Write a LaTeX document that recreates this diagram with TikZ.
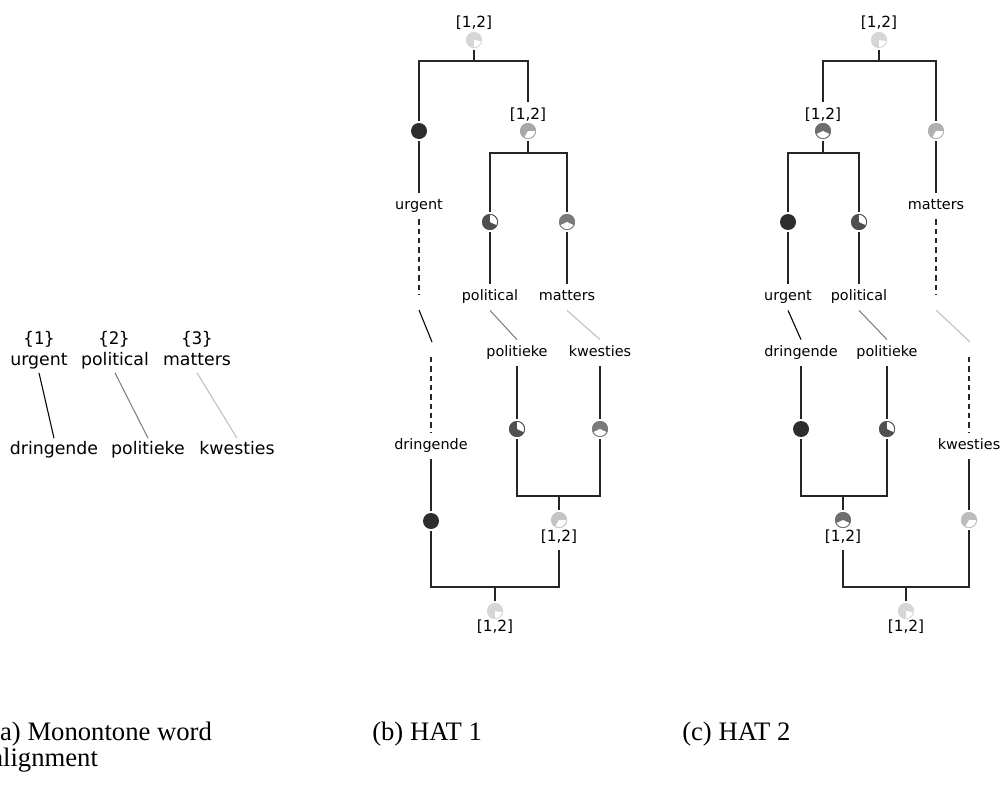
\documentclass[tikz,border=0pt]{standalone}
\usepackage{fontspec}
\setmainfont{Liberation Serif}
\newfontfamily\dv{DejaVu Sans}
\newfontfamily\dvm{DejaVu Sans Mono}
\definecolor{cdark}{HTML}{2D2D2D}
\definecolor{cpol}{HTML}{505050}
\definecolor{cmat}{HTML}{7A7A7A}
\definecolor{cmid}{HTML}{A8A8A8}
\definecolor{clow}{HTML}{C4C4C4}
\definecolor{clight}{HTML}{D6D6D6}
\definecolor{cup}{HTML}{6E6E6E}
\definecolor{cmatc}{HTML}{B0B0B0}
\definecolor{ckw}{HTML}{BCBCBC}
\newcommand\pienode[6]{%
  \node[pie, fill=#4] (#1) at (#2,#3) {};
  \fill[white] (#1.center) -- ++(#5:5.6pt) arc[start angle=#5, end angle=#6, radius=5.6pt] -- cycle;
  \draw[#4, line width=0.6pt] (#1.center) circle[radius=5.7pt];}
\begin{document}
\begin{tikzpicture}[x=0.75pt,y=-0.75pt,
  tree/.style={draw=black!85, line width=0.8pt},
  dsh/.style={tree, dash pattern=on 4pt off 3pt},
  alU/.style={draw=black, line width=0.8pt},
  alP/.style={draw=black!50, line width=0.8pt},
  alM/.style={draw=black!25, line width=0.8pt},
  wa/.style={font=\dv\fontsize{13}{15}\selectfont, inner xsep=1pt, inner ysep=2.5pt, text height=9.8pt, text depth=2.6pt},
  mono/.style={font=\dvm\fontsize{13}{15}\selectfont, inner sep=1pt},
  wb/.style={font=\dv\fontsize{10.8}{12}\selectfont, inner xsep=1pt, inner ysep=4.7pt, text height=8.1pt, text depth=2.2pt},
  lbl/.style={font=\dv\fontsize{11.5}{13}\selectfont, inner xsep=1pt, inner ysep=3.8pt, text height=8.6pt, text depth=2.3pt},
  pie/.style={circle, inner sep=0pt, minimum size=12pt, outer sep=1.3pt},
  captxt/.style={font=\fontsize{20}{24}\selectfont, inner sep=0pt, anchor=base west}]
\useasboundingbox (0,0) rectangle (1002,793);

% ---------------- panel (a)
\node[mono] (a1) at (39,339) {\{1\}};
\node[mono] (a2) at (114,339) {\{2\}};
\node[mono] (a3) at (197,339) {\{3\}};
\node[wa] (aU) at (39,361) {urgent};
\node[wa] (aP) at (115,361) {political};
\node[wa] (aM) at (197,361) {matters};
\node[wa] (aD) at (54,450) {dringende};
\node[wa] (aPk) at (148,450) {politieke};
\node[wa] (aK) at (237,450) {kwesties};
\draw[alU] (aU.south) -- (aD.north);
\draw[alP] (aP.south) -- (aPk.north);
\draw[alM] (aM.south) -- (aK.north);

% ---------------- panel (b)
\coordinate (b61) at (0,61);
\coordinate (b153) at (0,153);
\coordinate (b496) at (0,496);
\coordinate (b587) at (0,587);
\node[lbl] (bTopL) at (474,23) {[1,2]};
\pienode{bTop}{474}{40}{clight}{-90}{-10}
\node[pie, fill=cdark] (bU) at (419,131) {};
\node[lbl] (bPML) at (528,115) {[1,2]};
\pienode{bPM}{528}{131}{cmid}{-120}{0}
\pienode{bP}{490}{222}{cpol}{-25}{90}
\pienode{bM}{567}{222}{cmat}{-155}{-25}
\node[wb] (bUw) at (419,206) {urgent};
\node[wb] (bPw) at (490,297) {political};
\node[wb] (bMw) at (567,297) {matters};
\node[wb] (bPk) at (517,353) {politieke};
\node[wb] (bKw) at (600,353) {kwesties};
\node[wb] (bDr) at (431,446) {dringende};
\pienode{bPk2}{517}{429}{cpol}{-25}{90}
\pienode{bKw2}{600}{429}{cmat}{-155}{-25}
\pienode{bPK}{559}{520}{clow}{-120}{0}
\node[lbl] (bPKL) at (559,537) {[1,2]};
\node[pie, fill=cdark] (bD) at (431,521) {};
\pienode{bBot}{495}{611}{clight}{-90}{-10}
\node[lbl] (bBotL) at (495,627) {[1,2]};
\coordinate (bUe1) at (419,295);
\coordinate (bUe2) at (419,310);
\coordinate (bUe3) at (432,342);
\coordinate (bUe4) at (431,357);

\draw[tree] (bTop.south) -- (bTop.south |- b61);
\draw[tree] (bU.north) -- (bU.north |- b61) -- (bPML.north |- b61) -- (bPML.north);
\draw[tree] (bPM.south) -- (bPM.south |- b153);
\draw[tree] (bP.north) -- (bP.north |- b153) -- (bM.north |- b153) -- (bM.north);
\draw[tree] (bU.south) -- (bUw.north);
\draw[tree] (bP.south) -- (bPw.north);
\draw[tree] (bM.south) -- (bMw.north);
\draw[dsh] (bUw.south) -- (bUe1);
\draw[alU] (bUe2) -- (bUe3);
\draw[dsh] (bUe4) -- (bDr.north);
\draw[alP] (bPw.south) -- (bPk.north);
\draw[alM] (bMw.south) -- (bKw.north);
\draw[tree] (bPk.south) -- (bPk2.north);
\draw[tree] (bKw.south) -- (bKw2.north);
\draw[tree] (bPk2.south) -- (bPk2.south |- b496) -- (bKw2.south |- b496) -- (bKw2.south);
\draw[tree] (bPK.north) -- (bPK.north |- b496);
\draw[tree] (bDr.south) -- (bD.north);
\draw[tree] (bD.south) -- (bD.south |- b587) -- (bPKL.south |- b587) -- (bPKL.south);
\draw[tree] (bBot.north) -- (bBot.north |- b587);

% ---------------- panel (c)
\node[lbl] (cTopL) at (879,23) {[1,2]};
\pienode{cTop}{879}{40}{clight}{-90}{-10}
\node[lbl] (cUPL) at (823,115) {[1,2]};
\pienode{cUP}{823}{131}{cup}{-155}{-25}
\pienode{cM}{936}{131}{cmatc}{-120}{0}
\node[pie, fill=cdark] (cU) at (788,222) {};
\pienode{cP}{859}{222}{cpol}{-25}{90}
\node[wb] (cUw) at (788,297) {urgent};
\node[wb] (cPw) at (859,297) {political};
\node[wb] (cMw) at (936,206) {matters};
\node[wb] (cDr) at (801,353) {dringende};
\node[wb] (cPk) at (887,353) {politieke};
\node[wb] (cKw) at (969,446) {kwesties};
\node[pie, fill=cdark] (cD) at (801,429) {};
\pienode{cPk2}{887}{429}{cpol}{-25}{90}
\pienode{cDP}{843}{520}{cup}{-155}{-25}
\node[lbl] (cDPL) at (843,537) {[1,2]};
\pienode{cK}{969}{520}{ckw}{-120}{0}
\pienode{cBot}{906}{611}{clight}{-90}{-10}
\node[lbl] (cBotL) at (906,627) {[1,2]};
\coordinate (cMe1) at (936,295);
\coordinate (cMe2) at (936,310);
\coordinate (cMe3) at (970,342);
\coordinate (cMe4) at (969,357);

\draw[tree] (cTop.south) -- (cTop.south |- b61);
\draw[tree] (cUPL.north) -- (cUPL.north |- b61) -- (cM.north |- b61) -- (cM.north);
\draw[tree] (cUP.south) -- (cUP.south |- b153);
\draw[tree] (cU.north) -- (cU.north |- b153) -- (cP.north |- b153) -- (cP.north);
\draw[tree] (cU.south) -- (cUw.north);
\draw[tree] (cP.south) -- (cPw.north);
\draw[tree] (cM.south) -- (cMw.north);
\draw[dsh] (cMw.south) -- (cMe1);
\draw[alM] (cMe2) -- (cMe3);
\draw[dsh] (cMe4) -- (cKw.north);
\draw[alU] (cUw.south) -- (cDr.north);
\draw[alP] (cPw.south) -- (cPk.north);
\draw[tree] (cDr.south) -- (cD.north);
\draw[tree] (cPk.south) -- (cPk2.north);
\draw[tree] (cD.south) -- (cD.south |- b496) -- (cPk2.south |- b496) -- (cPk2.south);
\draw[tree] (cDP.north) -- (cDP.north |- b496);
\draw[tree] (cKw.south) -- (cK.north);
\draw[tree] (cDPL.south) -- (cDPL.south |- b587) -- (cK.south |- b587) -- (cK.south);
\draw[tree] (cBot.north) -- (cBot.north |- b587);

% ---------------- captions
\node[captxt] (capA1) at (-9,740) {(a) Monontone word};
\node[captxt] (capA2) at (-9,766) {alignment};
\node[captxt] (capB) at (372,740) {(b) HAT 1};
\node[captxt] (capC) at (682,740) {(c) HAT 2};
\end{tikzpicture}
\end{document}
